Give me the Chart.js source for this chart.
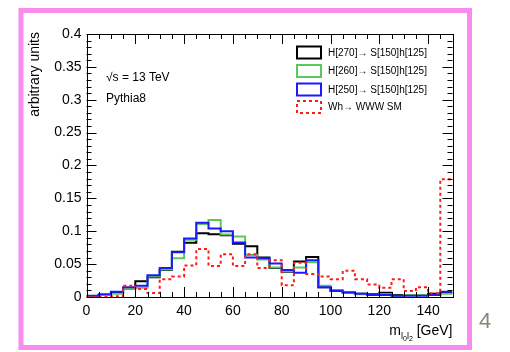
<!DOCTYPE html>
<html>
<head>
<meta charset="utf-8">
<script src="https://cdn.jsdelivr.net/npm/chart.js@4.4.1/dist/chart.umd.min.js"></script>
<style>
  html, body { margin: 0; padding: 0; background: #ffffff; }
  canvas { display: block; }
</style>
</head>
<body>
<canvas id="plot" width="510" height="352"></canvas>
<script>
// Dilepton invariant mass m_l0l2, 5 GeV bins from 0 to 150 GeV (lower bin edges)
const binLowEdges = [0, 5, 10, 15, 20, 25, 30, 35, 40, 45, 50, 55, 60, 65, 70,
                     75, 80, 85, 90, 95, 100, 105, 110, 115, 120, 125, 130, 135, 140, 145];
const binWidth = 5;

// Normalised distributions (arbitrary units)
const h270 = [0.001, 0.003, 0.006, 0.013, 0.024, 0.030, 0.041, 0.069, 0.0825, 0.097,
              0.0955, 0.094, 0.081, 0.077, 0.060, 0.044, 0.0385, 0.054, 0.061, 0.015,
              0.010, 0.007, 0.005, 0.004, 0.0066, 0.003, 0.003, 0.003, 0.005, 0.006];
const h260 = [0.001, 0.003, 0.005, 0.013, 0.014, 0.031, 0.042, 0.059, 0.087, 0.111,
              0.117, 0.095, 0.092, 0.064, 0.057, 0.045, 0.039, 0.045, 0.053, 0.017,
              0.009, 0.006, 0.004, 0.003, 0.004, 0.002, 0.003, 0.003, 0.003, 0.005];
const h250 = [0.002, 0.004, 0.008, 0.015, 0.017, 0.033, 0.044, 0.068, 0.089, 0.113,
              0.104, 0.100, 0.083, 0.060, 0.059, 0.051, 0.041, 0.037, 0.056, 0.015,
              0.009, 0.007, 0.005, 0.003, 0.003, 0.002, 0.002, 0.002, 0.003, 0.008];
const whWWW = [0.000, 0.000, 0.001, 0.017, 0.012, 0.006, 0.027, 0.031, 0.048, 0.073,
               0.047, 0.065, 0.047, 0.065, 0.044, 0.056, 0.018, 0.052, 0.035, 0.031,
               0.027, 0.040, 0.027, 0.019, 0.014, 0.027, 0.009, 0.015, 0.0056, 0.179];

const seriesLabels = ['H[270]\u2192 S[150]h[125]', 'H[260]\u2192 S[150]h[125]',
                      'H[250]\u2192 S[150]h[125]', 'Wh\u2192 WWW SM'];

// Axis ticks
const xTicks = [0, 20, 40, 60, 80, 100, 120, 140];
const yTicks = [0, 0.05, 0.1, 0.15, 0.2, 0.25, 0.3, 0.35, 0.4];
const xMinorStep = 5;
const yMinorStep = 0.01;

const FONT = '"Liberation Sans", Arial, Helvetica, sans-serif';

// Histogram outline: one point per lower edge plus the upper edge of the last bin
function steps(values) {
  const pts = binLowEdges.map((x, i) => ({ x: x, y: values[i] }));
  pts.push({ x: binLowEdges[binLowEdges.length - 1] + binWidth, y: values[values.length - 1] });
  return pts;
}

const styles = [
  { color: '#000000', dash: [], order: 3 },
  { color: '#5cc85c', dash: [], order: 2 },
  { color: '#1a1aff', dash: [], order: 1 },
  { color: '#ff1a1a', dash: [3, 3], order: 0 }
];
const series = [h270, h260, h250, whWWW];

const datasets = series.map((vals, i) => ({
  label: seriesLabels[i],
  data: steps(vals),
  borderColor: styles[i].color,
  borderWidth: 2,
  borderDash: styles[i].dash,
  stepped: 'before',
  pointRadius: 0,
  fill: false,
  order: styles[i].order
}));

// Frame, ROOT-style inward ticks, legend and labels
const decorations = {
  id: 'decorations',
  beforeDraw(chart) {
    const ctx = chart.ctx;
    ctx.save();
    ctx.fillStyle = '#ffffff';
    ctx.fillRect(0, 0, chart.width, chart.height);
    ctx.restore();
  },
  afterDraw(chart) {
    const ctx = chart.ctx;
    const a = chart.chartArea;
    const xs = chart.scales.x, ys = chart.scales.y;
    ctx.save();

    // axis box
    ctx.strokeStyle = '#000';
    ctx.lineWidth = 1;
    ctx.strokeRect(Math.round(a.left) + 0.5, Math.round(a.top) + 0.5,
                   Math.round(a.right - a.left), Math.round(a.bottom - a.top));

    // y ticks (left and right, pointing inward)
    ctx.beginPath();
    for (let v = 0; v <= 0.4 + 1e-9; v += yMinorStep) {
      const major = yTicks.some(t => Math.abs(t - v) < 1e-6);
      const len = major ? 10 : 5;
      const py = Math.round(ys.getPixelForValue(v)) + 0.5;
      ctx.moveTo(a.left, py); ctx.lineTo(a.left + len, py);
      ctx.moveTo(a.right, py); ctx.lineTo(a.right - len, py);
    }
    // x ticks (bottom and top, pointing inward)
    for (let v = 0; v <= 150 + 1e-9; v += xMinorStep) {
      const major = xTicks.includes(v);
      const len = major ? 10 : 5;
      const px = Math.round(xs.getPixelForValue(v)) + 0.5;
      ctx.moveTo(px, a.bottom); ctx.lineTo(px, a.bottom - len);
      ctx.moveTo(px, a.top); ctx.lineTo(px, a.top + len);
    }
    ctx.stroke();

    // axis titles
    ctx.fillStyle = '#000';
    ctx.font = '14px ' + FONT;
    ctx.save();
    ctx.translate(35, 32);
    ctx.rotate(-Math.PI / 2);
    ctx.textAlign = 'right';
    ctx.textBaseline = 'middle';
    ctx.fillText('arbitrary units', 0, 0);
    ctx.restore();

    // x title: m with subscript l0l2, then [GeV]
    const parts = [
      { t: 'm', size: 14, dy: 0 },
      { t: 'l', size: 9, dy: 4 },
      { t: '0', size: 7, dy: 6 },
      { t: 'l', size: 9, dy: 4 },
      { t: '2', size: 7, dy: 6 },
      { t: ' [GeV]', size: 14, dy: 0 }
    ];
    let total = 0;
    parts.forEach(p => { ctx.font = p.size + 'px ' + FONT; p.w = ctx.measureText(p.t).width; total += p.w; });
    let cx = a.right - total;
    const base = 335;
    ctx.textAlign = 'left';
    ctx.textBaseline = 'alphabetic';
    parts.forEach(p => {
      ctx.font = p.size + 'px ' + FONT;
      ctx.fillText(p.t, cx, base + p.dy);
      cx += p.w;
    });

    // annotation text
    ctx.font = '12px ' + FONT;
    ctx.textBaseline = 'middle';
    ctx.fillText('\u221As = 13 TeV', 106, 78);
    ctx.fillText('Pythia8', 106, 99);

    // legend
    const rowY = [52.5, 71, 89.5, 107];
    chart.data.datasets.forEach((ds, i) => {
      const y = rowY[i];
      ctx.fillStyle = '#fff';
      ctx.fillRect(297, y - 6, 24, 12);
      ctx.strokeStyle = ds.borderColor;
      ctx.lineWidth = 2;
      ctx.setLineDash(ds.borderDash);
      ctx.strokeRect(297, y - 6, 24, 12);
      ctx.setLineDash([]);
      ctx.fillStyle = '#000';
      ctx.font = '10px ' + FONT;
      ctx.textAlign = 'left';
      ctx.textBaseline = 'middle';
      ctx.fillText(ds.label, 328, y + 0.5);
    });

    // slide frame and page number
    ctx.strokeStyle = '#f98bef';
    ctx.lineWidth = 5;
    ctx.strokeRect(21, 10.5, 448.5, 337);
    ctx.fillStyle = '#8f8677';
    ctx.font = '22px ' + FONT;
    ctx.textAlign = 'left';
    ctx.textBaseline = 'alphabetic';
    ctx.fillText('4', 479, 328);

    ctx.restore();
  }
};

new Chart(document.getElementById('plot'), {
  type: 'line',
  data: { datasets: datasets },
  options: {
    responsive: false,
    animation: false,
    devicePixelRatio: 1,
    layout: { padding: { left: 0, right: 57.5, top: 34, bottom: 0 } },
    plugins: { legend: { display: false }, tooltip: { enabled: false } },
    scales: {
      x: {
        type: 'linear', min: 0, max: 150,
        afterBuildTicks: s => { s.ticks = xTicks.map(v => ({ value: v })); },
        afterFit: s => { s.height = 55; },
        ticks: { color: '#000', font: { family: FONT, size: 14 }, padding: 6,
                 maxRotation: 0, autoSkip: false },
        grid: { display: false, drawTicks: false },
        border: { display: false }
      },
      y: {
        type: 'linear', min: 0, max: 0.4,
        afterBuildTicks: s => { s.ticks = yTicks.map(v => ({ value: v })); },
        afterFit: s => { s.width = 86.5; },
        ticks: { color: '#000', font: { family: FONT, size: 14 }, padding: 5,
                 callback: v => String(Number(v.toFixed(2))) },
        grid: { display: false, drawTicks: false },
        border: { display: false }
      }
    }
  },
  plugins: [decorations]
});
</script>
</body>
</html>
